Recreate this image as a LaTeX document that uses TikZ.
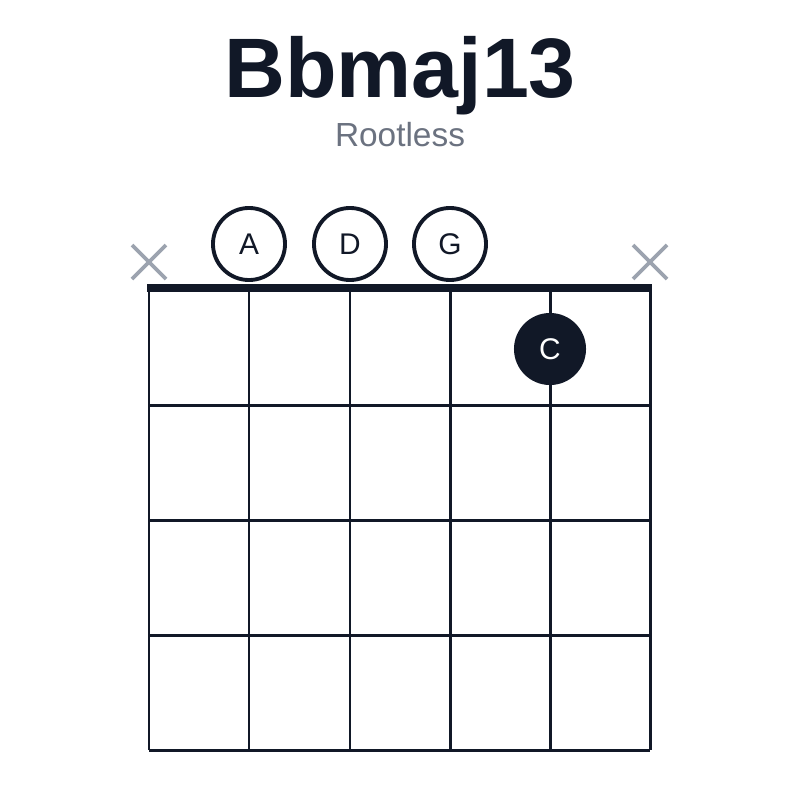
\documentclass[tikz,border=0pt]{standalone}
\usepackage{fontspec}
\setmainfont{Liberation Sans}
\usetikzlibrary{positioning}
\definecolor{ink}{HTML}{111827}
\definecolor{sub}{HTML}{6B7280}
\definecolor{mute}{HTML}{9CA3AF}
\tikzset{every picture/.style={line width=0.85pt}}
\tikzstyle{open}=[circle,draw=ink,fill=white,line width=1.1pt,minimum size=0.72cm,inner sep=0pt,font=\fontsize{8.5}{9}\selectfont,text=ink]
\tikzstyle{fing}=[circle,fill=ink,minimum size=0.72cm,inner sep=0pt,font=\fontsize{8.5}{9}\selectfont,text=white]
\begin{document}
\begin{tikzpicture}[x=0.01cm,y=-0.01cm]
\useasboundingbox (0,0) rectangle (800,800);
\node[text=ink,font=\fontsize{24}{26}\bfseries\selectfont] (T) at (400,76) {Bbmaj13};
\node[text=sub,font=\fontsize{9.5}{11}\selectfont] (S) at (400,135) {Rootless};
% grid
\foreach \x in {149,249,350,450,550,650}
  \draw[ink] (\x,288) -- (\x,750);
\foreach \y in {405,520,635,750}
  \draw[ink] (149,\y) -- (650,\y);
\draw[ink,line width=2.4pt] (147,288) -- (652,288);
% muted strings
\foreach \x in {149,650}
  \draw[mute,line width=1.1pt] (\x-17,245) -- (\x+17,279) (\x-17,279) -- (\x+17,245);
% open strings
\node[open] (A) at (249,244) {A};
\node[open] (D) at (350,244) {D};
\node[open] (G) at (450,244) {G};
% fingered
\node[fing] (C) at (550,349) {C};
\end{tikzpicture}
\end{document}
